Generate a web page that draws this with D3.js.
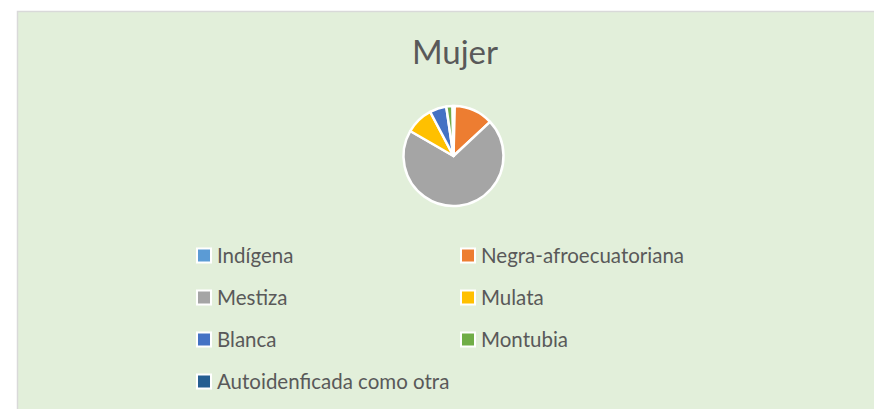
<!DOCTYPE html>
<html>
<head>
<meta charset="utf-8">
<script src="https://cdn.jsdelivr.net/npm/d3@7"></script>
<style>
  html, body { margin: 0; padding: 0; background: #ffffff; }
  svg { display: block; }
</style>
</head>
<body>
<svg id="chart" width="874" height="409"></svg>
<script>
const title = "Mujer";
const categories = ["Indígena", "Negra-afroecuatoriana", "Mestiza", "Mulata", "Blanca", "Montubia", "Autoidenficada como otra"];
const values = [0.4, 12.6, 70.0, 8.9, 5.4, 2.0, 0.3];
const colors = ["#5B9BD5", "#ED7D31", "#A5A5A5", "#FFC000", "#4472C4", "#70AD47", "#255E91"];

const svg = d3.select("#chart");
const font = "Lato, 'Open Sans', sans-serif";

// chart area
svg.append("rect")
  .attr("x", 17.5).attr("y", 11.5)
  .attr("width", 900).attr("height", 420)
  .attr("fill", "#E2EFDA")
  .attr("stroke", "#D9D9D9").attr("stroke-width", 1.5);

// title
svg.append("text")
  .attr("x", 455).attr("y", 64)
  .attr("text-anchor", "middle")
  .attr("font-family", font)
  .attr("font-size", 33)
  .attr("fill", "#595959")
  .text(title);

// pie
const data = categories.map((c, i) => ({ cat: c, value: values[i], color: colors[i] }));
const pie = d3.pie().value(d => d.value).sort(null);
const arc = d3.arc().innerRadius(0).outerRadius(50);
const g = svg.append("g").attr("transform", "translate(453.5,156)");
g.selectAll("path")
  .data(pie(data))
  .join("path")
  .attr("d", arc)
  .attr("fill", d => d.data.color)
  .attr("stroke", "#ffffff")
  .attr("stroke-width", 2.5)
  .attr("stroke-linejoin", "round");

// legend
const colX = d3.scaleOrdinal().domain([0, 1]).range([197, 461]);
const rowY = d3.scaleLinear().domain([0, 3]).range([255.5, 381.5]);
const leg = svg.append("g");
const items = leg.selectAll("g")
  .data(data)
  .join("g")
  .attr("transform", (d, i) => `translate(${colX(i % 2)},${rowY(Math.floor(i / 2))})`);
items.append("rect")
  .attr("x", 0).attr("y", -7)
  .attr("width", 14).attr("height", 14)
  .attr("fill", d => d.color)
  .attr("stroke", "#ffffff").attr("stroke-width", 2);
items.append("text")
  .attr("x", 20).attr("y", 0)
  .attr("dy", "0.36em")
  .attr("font-family", font)
  .attr("font-size", 20.5)
  .attr("fill", "#595959")
  .text(d => d.cat);
</script>
</body>
</html>
